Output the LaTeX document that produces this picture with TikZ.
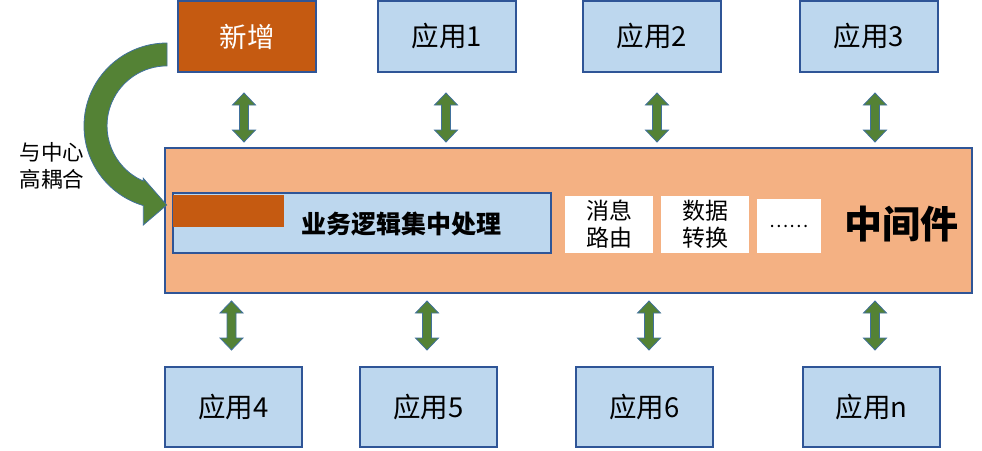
\documentclass[tikz,border=0pt]{standalone}
\usepackage{fontspec}
\setmainfont{Noto Sans CJK SC}
\definecolor{boxblue}{HTML}{BDD7EE}
\definecolor{edgeblue}{HTML}{2F5597}
\definecolor{darkorange}{HTML}{C55A11}
\definecolor{lightorange}{HTML}{F4B183}
\definecolor{arrowgreen}{HTML}{548235}
\definecolor{arrowedge}{HTML}{41719C}
\tikzset{
  appbox/.style={draw=edgeblue, line width=2pt, fill=boxblue, inner sep=0pt,
    minimum width=138pt, minimum height=71pt, font=\fontsize{27.5}{30}\selectfont},
  lowbox/.style={appbox, minimum width=137pt, minimum height=80pt},
  whitebox/.style={fill=white, inner sep=0pt, align=center,
    font=\fontsize{23}{27}\selectfont},
  greenshape/.style={fill=arrowgreen, draw=arrowedge, line width=0.8pt, line join=miter},
}
\newcommand\dblarrow[3]{% x, top y, bottom y
  \path[greenshape] (#1,#2) -- (#1+11.5,#2+12) -- (#1+4.5,#2+12) -- (#1+4.5,#3-12)
    -- (#1+11.5,#3-12) -- (#1,#3) -- (#1-11.5,#3-12) -- (#1-4.5,#3-12)
    -- (#1-4.5,#2+12) -- (#1-11.5,#2+12) -- cycle;}
\begin{document}
\begin{tikzpicture}[x=1pt,y=-1pt]
\useasboundingbox (0,0) rectangle (982,450);
% top row
\node[appbox, fill=darkorange, text=white] (xz) at (247,36.5) {新增};
\node[appbox] (a1) at (447,36.5) {应用1};
\node[appbox] (a2) at (652,36.5) {应用2};
\node[appbox] (a3) at (869,36.5) {应用3};
% middleware
\node[draw=edgeblue, line width=2pt, fill=lightorange, minimum width=807pt,
  minimum height=145pt, inner sep=0pt] (mw) at (568.5,220.5) {};
\node[draw=edgeblue, line width=2pt, fill=boxblue, minimum width=378pt,
  minimum height=60pt, inner sep=0pt] (biz) at (362,223) {};
\node[fill=darkorange, minimum width=111pt, minimum height=32pt, inner sep=0pt,
  anchor=north west] (bizo) at (173,195) {};
\node[font=\fontsize{25}{28}\selectfont\bfseries] (biztext) at (401,224) {业务逻辑集中处理};
\node[whitebox, minimum width=88pt, minimum height=57pt] (route) at (609,224.5) {消息\\路由};
\node[whitebox, minimum width=88pt, minimum height=57pt] (conv) at (705,224.5) {数据\\转换};
\node[whitebox, minimum width=64pt, minimum height=54pt, font=\fontsize{18}{22}\selectfont] (dots) at (789,226) {……};
\node[font=\fontsize{38}{42}\selectfont\bfseries] (mwtext) at (901,224) {中间件};
% bottom row
\node[lowbox] (a4) at (233.5,407) {应用4};
\node[lowbox] (a5) at (428.5,407) {应用5};
\node[lowbox] (a6) at (644.5,407) {应用6};
\node[lowbox] (an) at (871.5,407) {应用n};
% double arrows
\dblarrow{244}{93}{142}
\dblarrow{446}{93}{142}
\dblarrow{657}{93}{142}
\dblarrow{875}{93}{142}
\dblarrow{231.5}{301}{350}
\dblarrow{427}{301}{350}
\dblarrow{649}{301}{350}
\dblarrow{875}{301}{350}
% curved arrow
\path[greenshape] (167,43) arc[start angle=270, end angle=106.6, radius=83]
  -- (143.3,225) -- (166.7,205) -- (143.3,178.3) -- (143.3,181)
  arc[start angle=113.3, end angle=270, radius=60] -- cycle;
\node[align=center, font=\fontsize{21.5}{27}\selectfont, inner sep=0pt] (lbl) at (52,166) {与中心\\高耦合};
\end{tikzpicture}
\end{document}
